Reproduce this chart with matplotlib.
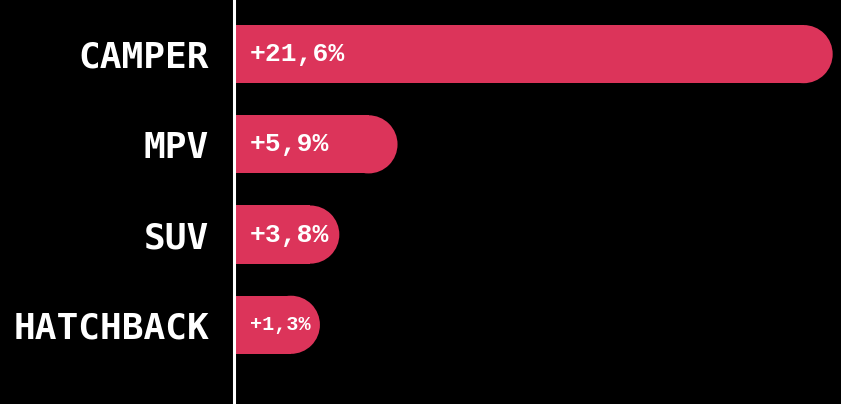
import matplotlib.pyplot as plt
from matplotlib.patches import Ellipse

# data
categories = ["CAMPER", "MPV", "SUV", "HATCHBACK"]
growth = [21.6, 5.9, 3.8, 1.3]
value_labels = ["+21,6%", "+5,9%", "+3,8%", "+1,3%"]

BG = "black"
BAR = "#DC345A"
FONT = "DejaVu Sans Mono"
VFONT = "Liberation Mono"

fig = plt.figure(figsize=(8.41, 4.04), dpi=100, facecolor=BG)
ax = fig.add_axes([234 / 841, 0, 607 / 841, 1], facecolor=BG)

xmax = 21.9
ax.set_xlim(0, xmax)
ax.set_ylim(3.878, -0.6)

# pixel -> data conversions so the end cap is a true half circle
x_per_px = xmax / 607
y_per_px = 1 / 90
bar_h = 58 * y_per_px
r = 29 * x_per_px
min_len = 3.1  # keep room for the label on tiny bars

for i, (v, lab) in enumerate(zip(growth, value_labels)):
    end = max(v, min_len)
    ax.barh(i, end - r, height=bar_h, left=0, color=BAR, lw=0)
    ax.add_patch(Ellipse((end - r, i), 2 * r, bar_h, fc=BAR, ec="none"))
    fs = 14.5 if v < 2 else 19
    ax.annotate(lab, (0, i), xytext=(11.5, 0), textcoords="offset points",
                va="center", ha="left", color="white", fontsize=fs,
                fontweight="bold", family=VFONT)

ax.axvline(0, color="white", lw=2.2, clip_on=False)

ax.set_yticks(range(len(categories)), categories)
ax.tick_params(axis="y", length=0, pad=18, labelcolor="white", labelsize=26)
for t in ax.get_yticklabels():
    t.set_family(FONT)
    t.set_fontweight("bold")
ax.set_xticks([])
for s in ax.spines.values():
    s.set_visible(False)

fig.savefig("out.png", dpi=100, facecolor=BG)
